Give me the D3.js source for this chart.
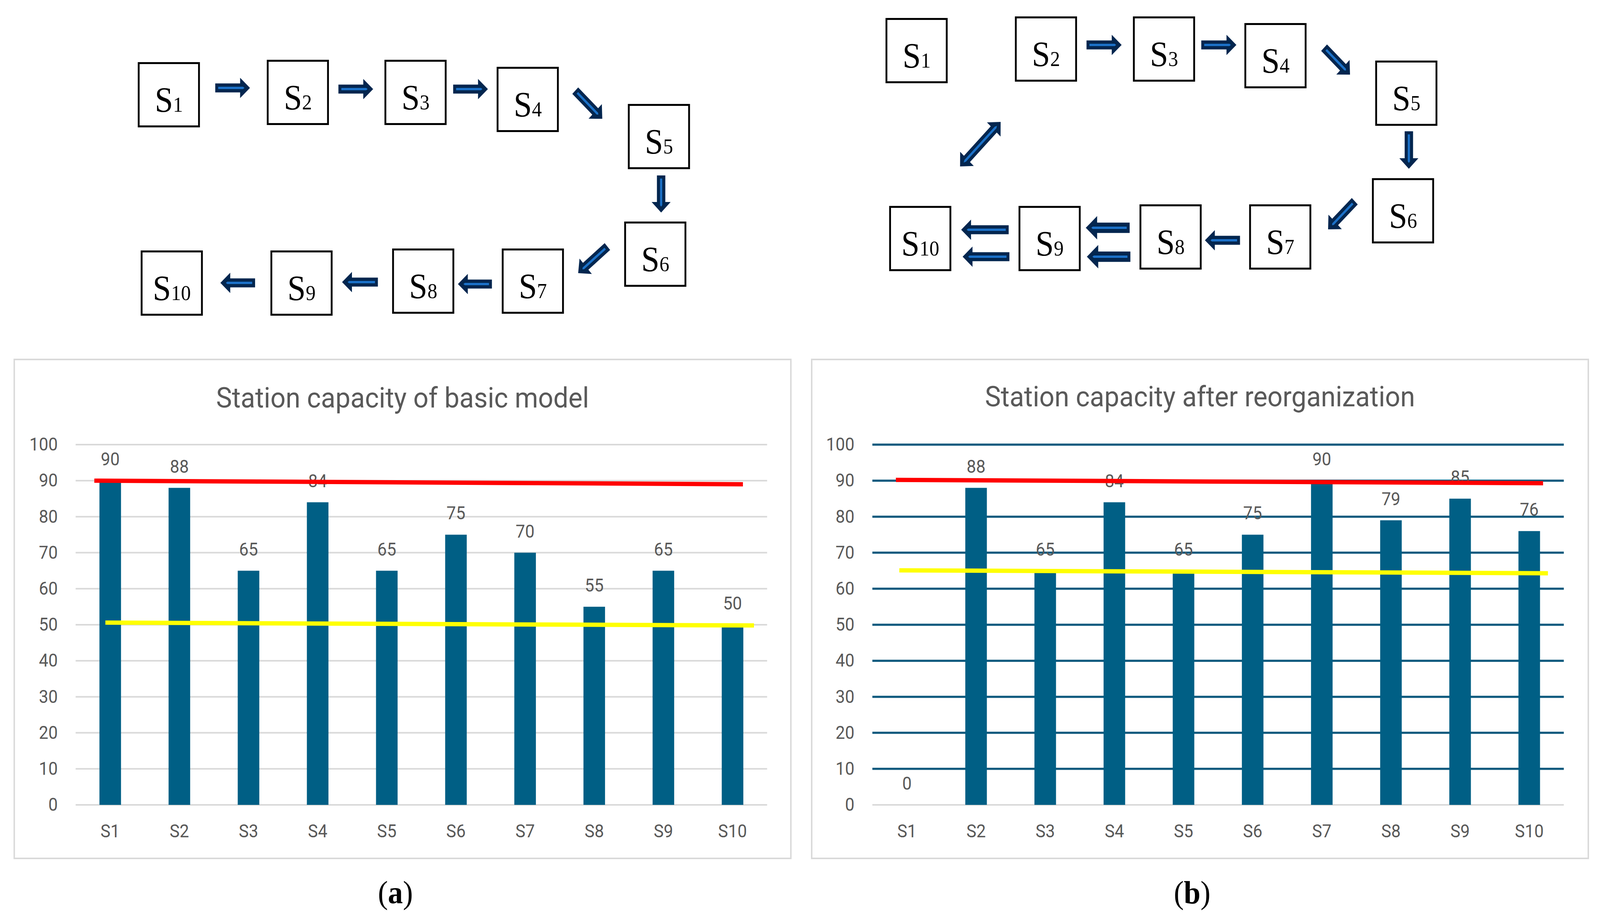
<!DOCTYPE html>
<html>
<head>
<meta charset="utf-8">
<script src="https://cdn.jsdelivr.net/npm/d3@7"></script>
<style>
  html, body { margin: 0; padding: 0; background: #fff; overflow: hidden; width: 100%; height: 100%; }
  #wrap { width: 100vw; height: 100vh; }
  svg { display: block; width: 100%; height: 100%; }
</style>
</head>
<body>
<div id="wrap"></div>
<script>
// ── Station capacity: flow diagrams + bar charts ──

const stations = ['S1', 'S2', 'S3', 'S4', 'S5', 'S6', 'S7', 'S8', 'S9', 'S10']
const capacityBasic = [90, 88, 65, 84, 65, 75, 70, 55, 65, 50]
const capacityReorg = [0, 88, 65, 84, 65, 75, 90, 79, 85, 76]
const yTicks = [0, 10, 20, 30, 40, 50, 60, 70, 80, 90, 100]

// hand-drawn reference lines: [category index, value]
const redBasic = [[-0.23, 90], [9.15, 89]]
const yellowBasic = [[-0.07, 50.6], [9.31, 49.8]]
const redReorg = [[-0.16, 90.2], [9.2, 89.3]]
const yellowReorg = [[-0.11, 65.1], [9.27, 64.3]]

// diagram layout (top-left of each box)
const basicNodes = [
  ['1', 377, 159], ['2', 730, 153], ['3', 1052, 153], ['4', 1359, 171], ['5', 1718, 266],
  ['6', 1708, 567], ['7', 1373, 636], ['8', 1073, 636], ['9', 740, 641], ['10', 385, 641],
]
const reorgNodes = [
  ['1', 2423, 46], ['2', 2777, 42], ['3', 3100, 42], ['4', 3405, 59], ['5', 3763, 155],
  ['6', 3754, 456], ['7', 3418, 523], ['8', 3118, 523], ['9', 2787, 527], ['10', 2433, 527],
]
// arrows: tail x, tail y, tip x, tip y, [size, double]
const basicArrows = [
  [589, 225, 684, 225], [926, 228, 1021, 228], [1240, 228, 1335, 228],
  [1574, 232, 1648, 304], [1809, 449, 1809, 544], [1662, 631, 1582, 699],
  [1346, 727, 1253, 727], [1034, 722, 936, 722], [698, 724, 603, 724],
]
const reorgArrows = [
  [2973, 115, 3069, 115], [3287, 115, 3383, 115], [3623, 122, 3694, 191],
  [3855, 336, 3855, 432], [3707, 515, 3634, 587], [3393, 615, 3297, 615],
  [3091, 583, 2971, 583, 1.15], [3093, 657, 2974, 657, 1.15],
  [2760, 588, 2630, 588], [2762, 657, 2634, 657],
  [2627, 426, 2738, 312, 1, true],
]

const W = 4378, H = 2347
const navy = '#03264f', lightBlue = '#1c71c8'
const barColor = '#005f85', textGrey = '#595959'

const svg = d3.select('#wrap').append('svg')
  .attr('viewBox', `0 0 ${W} ${H}`)
  .attr('preserveAspectRatio', 'none')
svg.append('rect').attr('width', W).attr('height', H).attr('fill', '#fff')

function drawNodes(nodes) {
  const g = svg.append('g')
  const n = g.selectAll('g.node').data(nodes).join('g').attr('class', 'node')
    .attr('transform', d => `translate(${d[1]},${d[2]})`)
  n.append('rect')
    .attr('x', 2.5).attr('y', 2.5).attr('width', 165).attr('height', 162)
    .attr('fill', '#fff').attr('stroke', '#000').attr('stroke-width', 5)
  const t = n.append('text')
    .attr('x', 85).attr('y', 127)
    .attr('text-anchor', 'middle')
    .attr('font-family', '"Liberation Serif", "Times New Roman", serif')
    .attr('fill', '#000')
  t.append('tspan').attr('font-size', 90).text('S')
  t.append('tspan').attr('font-size', 54).text(d => d[0])
}

function drawArrows(arrows) {
  const g = svg.append('g')
  arrows.forEach(a => {
    const [x0, y0, x1, y1, k = 1, dbl = false] = a
    const L = Math.hypot(x1 - x0, y1 - y0)
    const ang = Math.atan2(y1 - y0, x1 - x0) * 180 / Math.PI
    const sw = 23 * k, hw = 52 * k, hl = 27 * k
    let pts
    if (dbl) {
      pts = [[0, 0], [hl, -hw / 2], [hl, -sw / 2], [L - hl, -sw / 2], [L - hl, -hw / 2], [L, 0],
        [L - hl, hw / 2], [L - hl, sw / 2], [hl, sw / 2], [hl, hw / 2]]
    } else {
      pts = [[0, -sw / 2], [L - hl, -sw / 2], [L - hl, -hw / 2], [L, 0], [L - hl, hw / 2], [L - hl, sw / 2], [0, sw / 2]]
    }
    const inner = dbl
      ? [[14, 0], [20, -3], [L - 20, -3], [L - 14, 0], [L - 20, 3], [20, 3]]
      : [[8, -3], [L - 19, -3], [L - 15, 0], [L - 19, 3], [8, 3]]
    const ag = g.append('g').attr('transform', `translate(${x0},${y0}) rotate(${ang})`)
    ag.append('polygon').attr('points', pts.map(p => p.join(',')).join(' ')).attr('fill', navy)
    ag.append('polygon').attr('points', inner.map(p => p.join(',')).join(' ')).attr('fill', lightBlue)
  })
}

function drawChart(opts) {
  const { left, right, panel, title, titleY, values, red, yellow, gridColor } = opts
  const top = 1138, bottom = 2060

  svg.append('rect')
    .attr('x', panel[0]).attr('y', 920).attr('width', panel[1] - panel[0]).attr('height', 1277)
    .attr('fill', '#fff').attr('stroke', '#d9d9d9').attr('stroke-width', 4)

  svg.append('text')
    .attr('x', (panel[0] + panel[1]) / 2).attr('y', titleY)
    .attr('text-anchor', 'middle')
    .attr('font-family', 'Roboto, "Open Sans", sans-serif')
    .attr('font-size', 73)
    .attr('fill', textGrey)
    .text(title)

  const x = d3.scaleBand().domain(stations).range([left, right]).paddingInner(0.688).paddingOuter(0.344)
  const y = d3.scaleLinear().domain([0, 100]).range([bottom, top])
  const step = x.step()
  const cx = i => x(stations[0]) + x.bandwidth() / 2 + i * step

  const g = svg.append('g')

  g.selectAll('line.grid').data(yTicks).join('line')
    .attr('class', 'grid')
    .attr('x1', left).attr('x2', right)
    .attr('y1', d => y(d)).attr('y2', d => y(d))
    .attr('stroke', d => d === 0 ? '#d9d9d9' : gridColor)
    .attr('stroke-width', d => d === 0 ? 4 : (gridColor === '#d9d9d9' ? 4 : 5.5))

  const yAxis = g.append('g')
    .attr('transform', `translate(${left},0)`)
    .call(d3.axisLeft(y).tickValues(yTicks).tickSize(0).tickPadding(49))
  yAxis.select('.domain').remove()
  yAxis.selectAll('text')
    .attr('font-family', 'Roboto, sans-serif').attr('font-size', 46).attr('fill', textGrey)

  const xAxis = g.append('g')
    .attr('transform', `translate(0,${bottom})`)
    .call(d3.axisBottom(x).tickSize(0).tickPadding(50))
  xAxis.select('.domain').remove()
  xAxis.selectAll('text')
    .attr('font-family', 'Roboto, sans-serif').attr('font-size', 46).attr('fill', textGrey)

  g.selectAll('rect.bar').data(values).join('rect')
    .attr('class', 'bar')
    .attr('x', (d, i) => x(stations[i]))
    .attr('y', d => y(d))
    .attr('width', x.bandwidth())
    .attr('height', d => y(0) - y(d))
    .attr('fill', barColor)

  g.selectAll('text.val').data(values).join('text')
    .attr('class', 'val')
    .attr('x', (d, i) => x(stations[i]) + x.bandwidth() / 2)
    .attr('y', d => y(d) - 39)
    .attr('text-anchor', 'middle')
    .attr('font-family', 'Roboto, sans-serif').attr('font-size', 46).attr('fill', textGrey)
    .text(d => d)

  const line = d3.line().x(d => cx(d[0])).y(d => y(d[1]))
  g.append('path').attr('d', line(yellow)).attr('fill', 'none')
    .attr('stroke', '#ffff00').attr('stroke-width', 11)
  g.append('path').attr('d', line(red)).attr('fill', 'none')
    .attr('stroke', '#ff0000').attr('stroke-width', 11)
}

function drawCaption(cxPos, letter) {
  const t = svg.append('text')
    .attr('x', cxPos).attr('y', 2312)
    .attr('text-anchor', 'middle')
    .attr('font-family', '"Liberation Serif", "Times New Roman", serif')
    .attr('font-size', 82).attr('fill', '#000')
  t.append('tspan').text('(')
  t.append('tspan').attr('font-weight', 'bold').text(letter)
  t.append('tspan').text(')')
}

drawNodes(basicNodes)
drawArrows(basicArrows)
drawNodes(reorgNodes)
drawArrows(reorgArrows)

drawChart({
  left: 207, right: 2099, panel: [39, 2164], titleY: 1043,
  title: 'Station capacity of basic model',
  values: capacityBasic, red: redBasic, yellow: yellowBasic, gridColor: '#d9d9d9',
})
drawChart({
  left: 2387, right: 4279, panel: [2221, 4346], titleY: 1040,
  title: 'Station capacity after reorganization',
  values: capacityReorg, red: redReorg, yellow: yellowReorg, gridColor: '#0f5a7e',
})

drawCaption(1082, 'a')
drawCaption(3262, 'b')
</script>
</body>
</html>
